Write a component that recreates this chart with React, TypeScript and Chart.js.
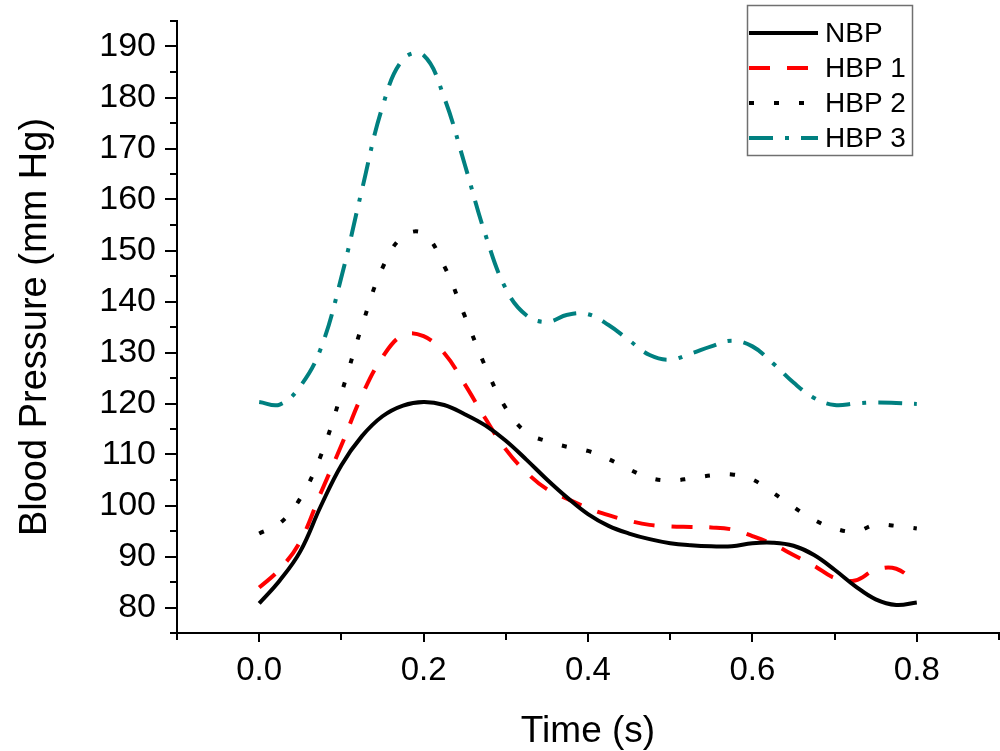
import React, { useEffect, useRef } from "react";
import { Chart, registerables } from "chart.js";

Chart.register(...registerables);

const FONT = '"Liberation Sans", Arial, sans-serif';

const TIME = [
  0, 0.025, 0.05, 0.075, 0.1, 0.125, 0.15, 0.175, 0.2, 0.225, 0.25, 0.275, 0.3,
  0.325, 0.35, 0.375, 0.4, 0.425, 0.45, 0.475, 0.5, 0.525, 0.55, 0.575, 0.6,
  0.625, 0.65, 0.675, 0.7, 0.725, 0.75, 0.775, 0.8,
];

const NBP = [
  80.8, 85.3, 91.0, 99.9, 107.9, 113.6, 117.5, 119.6, 120.3, 119.7, 117.9, 115.7,
  112.7, 109.0, 105.1, 101.5, 98.3, 96.0, 94.5, 93.4, 92.6, 92.2, 92.0, 92.0,
  92.6, 92.7, 92.1, 90.3, 87.4, 84.2, 81.6, 80.5, 81.0,
];

const HBP1 = [
  83.9, 87.5, 93.0, 102.5, 111.8, 121.6, 129.1, 133.4, 133.2, 129.9, 123.8, 117.1,
  111.0, 106.5, 103.2, 101.3, 99.5, 98.1, 97.0, 96.2, 95.9, 95.8, 95.7, 95.3,
  94.0, 92.4, 90.3, 88.2, 85.8, 85.3, 87.4, 87.6, 84.7,
];

const HBP2 = [
  94.5, 96.5, 101.4, 109.8, 122.0, 135.2, 146.6, 152.8, 153.3, 147.0, 137.2, 127.3,
  119.1, 114.3, 112.6, 111.5, 110.7, 109.1, 107.1, 105.4, 104.9, 105.3, 105.9, 106.1,
  105.1, 102.5, 99.7, 97.2, 95.5, 94.9, 96.2, 96.0, 95.5,
];

const HBP3 = [
  120.3, 119.8, 123.4, 130.8, 144.8, 161.9, 178.2, 187.5, 188.3, 180.0, 166.9, 153.2,
  142.5, 137.3, 136.0, 137.4, 137.5, 135.4, 132.4, 129.5, 128.6, 129.8, 131.2, 132.3,
  131.2, 127.9, 124.1, 121.1, 119.7, 120.0, 120.2, 120.1, 119.9,
];

const SERIES_LABELS = ["NBP", "HBP 1", "HBP 2", "HBP 3"];

const Y_MAJOR = [80, 90, 100, 110, 120, 130, 140, 150, 160, 170, 180, 190];
const Y_MINOR = [75, 85, 95, 105, 115, 125, 135, 145, 155, 165, 175, 185, 195];
const X_MAJOR = [0, 0.2, 0.4, 0.6, 0.8];
const X_MINOR = [-0.1, 0.1, 0.3, 0.5, 0.7, 0.9];

const toPoints = (vals: number[]) => vals.map((v, i) => ({ x: TIME[i], y: v }));

const axesPlugin = {
  id: "originAxes",
  afterDraw(chart: any) {
    const { ctx, chartArea, scales } = chart;
    const xs = scales.x;
    const ys = scales.y;
    ctx.save();
    ctx.strokeStyle = "#000";
    ctx.lineWidth = 2;
    ctx.lineCap = "square";
    ctx.beginPath();
    ctx.moveTo(chartArea.left, chartArea.top);
    ctx.lineTo(chartArea.left, chartArea.bottom);
    ctx.moveTo(chartArea.left, chartArea.bottom);
    ctx.lineTo(chartArea.right, chartArea.bottom);
    ctx.stroke();
    ctx.lineCap = "butt";
    ctx.beginPath();
    Y_MAJOR.forEach((v) => {
      const p = Math.round(ys.getPixelForValue(v));
      ctx.moveTo(chartArea.left, p);
      ctx.lineTo(chartArea.left - 12, p);
    });
    Y_MINOR.forEach((v) => {
      const p = Math.round(ys.getPixelForValue(v));
      ctx.moveTo(chartArea.left, p);
      ctx.lineTo(chartArea.left - 7, p);
    });
    X_MAJOR.forEach((v) => {
      const p = Math.round(xs.getPixelForValue(v));
      ctx.moveTo(p, chartArea.bottom);
      ctx.lineTo(p, chartArea.bottom + 9);
    });
    X_MINOR.forEach((v) => {
      const p = Math.round(xs.getPixelForValue(v));
      ctx.moveTo(p, chartArea.bottom);
      ctx.lineTo(p, chartArea.bottom + 7);
    });
    ctx.stroke();

    // legend
    const bx = 747.5, by = 5.5, bw = 165, bh = 150;
    ctx.strokeStyle = "#707070";
    ctx.lineWidth = 1.5;
    ctx.strokeRect(bx, by, bw, bh);
    ctx.font = `28px ${FONT}`;
    ctx.textBaseline = "middle";
    ctx.textAlign = "left";
    chart.data.datasets.forEach((ds: any, i: number) => {
      const cy = 33 + i * 35;
      ctx.save();
      ctx.strokeStyle = ds.borderColor;
      ctx.lineWidth = ds.borderWidth;
      ctx.setLineDash(ds.borderDash || []);
      ctx.beginPath();
      ctx.moveTo(749, cy);
      ctx.lineTo(818, cy);
      ctx.stroke();
      ctx.restore();
      ctx.fillStyle = "#000";
      ctx.fillText(ds.label, 825, cy + 1);
    });
    ctx.restore();
  },
};

export default function App() {
  const ref = useRef<HTMLCanvasElement | null>(null);
  useEffect(() => {
    if (!ref.current) return;
    Chart.defaults.font.family = FONT;
    const chart = new Chart(ref.current, {
      type: "line",
      data: {
        datasets: [
          {
            label: SERIES_LABELS[0],
            data: toPoints(NBP),
            borderColor: "#000000",
            borderWidth: 4,
            borderDash: [],
          },
          {
            label: SERIES_LABELS[1],
            data: toPoints(HBP1),
            borderColor: "#FF0000",
            borderWidth: 4,
            borderDash: [21, 17],
          },
          {
            label: SERIES_LABELS[2],
            data: toPoints(HBP2),
            borderColor: "#000000",
            borderWidth: 4,
            borderDash: [5, 20],
          },
          {
            label: SERIES_LABELS[3],
            data: toPoints(HBP3),
            borderColor: "#008080",
            borderWidth: 4,
            borderDash: [24, 12, 4, 12],
          },
        ].map((d) => ({
          ...d,
          pointRadius: 0,
          tension: 0.4,
          fill: false,
          borderCapStyle: "butt" as const,
        })),
      },
      options: {
        animation: false,
        responsive: true,
        maintainAspectRatio: false,
        layout: { padding: { top: 21, right: 1, left: 0, bottom: 0 } },
        plugins: { legend: { display: false }, tooltip: { enabled: false } },
        scales: {
          x: {
            type: "linear",
            min: -0.1,
            max: 0.9,
            afterBuildTicks: (s: any) => {
              s.ticks = X_MAJOR.map((v) => ({ value: v }));
            },
            afterFit: (s: any) => {
              s.height = 118;
              s.paddingLeft = 0;
              s.paddingRight = 0;
            },
            grid: { display: false, drawTicks: false },
            border: { display: false },
            ticks: {
              color: "#000",
              font: { size: 33, family: FONT },
              padding: 18,
              maxRotation: 0,
              autoSkip: false,
              callback: (v: any) => Number(v).toFixed(1),
            },
            title: {
              display: true,
              text: "Time (s)",
              color: "#000",
              font: { size: 37, family: FONT, lineHeight: 1 },
              padding: { top: 0, bottom: 1 },
            },
          },
          y: {
            type: "linear",
            min: 75,
            max: 195,
            afterBuildTicks: (s: any) => {
              s.ticks = Y_MAJOR.map((v) => ({ value: v }));
            },
            afterFit: (s: any) => {
              s.width = 177;
              s.paddingTop = 0;
              s.paddingBottom = 0;
            },
            grid: { display: false, drawTicks: false },
            border: { display: false },
            ticks: {
              color: "#000",
              font: { size: 34, family: FONT },
              padding: 21,
              autoSkip: false,
              callback: (v: any) => String(v),
            },
            title: {
              display: true,
              text: "Blood Pressure (mm Hg)",
              color: "#000",
              font: { size: 38, family: FONT, lineHeight: 1 },
              padding: { top: 17, bottom: 0 },
            },
          },
        },
      },
      plugins: [axesPlugin],
    });
    return () => chart.destroy();
  }, []);

  return (
    <div
      style={{
        position: "fixed",
        left: 0,
        top: 0,
        width: 1000,
        height: 751,
        background: "#fff",
      }}
    >
      <canvas ref={ref} />
    </div>
  );
}
